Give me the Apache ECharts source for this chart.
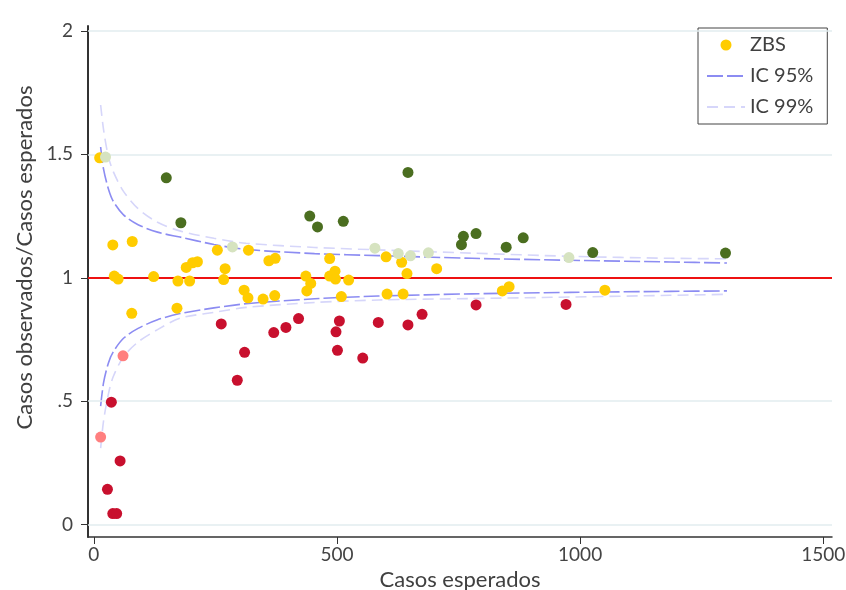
<!DOCTYPE html>
<html>
<head>
<meta charset="utf-8">
<script src="https://cdn.jsdelivr.net/npm/echarts@6/dist/echarts.min.js"></script>
<style>
html, body { margin: 0; padding: 0; background: #fff; }
#chartView { width: 846px; height: 590px; }
</style>
</head>
<body>
<div id="chartView"></div>
<script>
// valores: [casos esperados, observados/esperados]
var zbs = [
	[12, 1.486], [39, 1.133], [79, 1.147], [254, 1.112], [318, 1.112], [360, 1.069],
	[373, 1.079], [485, 1.078], [190, 1.042], [203, 1.061], [213, 1.065], [270, 1.037],
	[42, 1.007], [50, 0.995], [123, 1.005], [173, 0.987], [197, 0.987], [267, 0.993],
	[436, 1.007], [446, 0.977], [438, 0.947], [485, 1.007], [496, 1.027], [497, 0.995],
	[524, 0.991], [309, 0.950], [317, 0.919], [348, 0.914], [372, 0.928], [509, 0.924],
	[78, 0.856], [171, 0.877], [601, 1.085], [633, 1.063], [644, 1.017], [705, 1.037],
	[603, 0.934], [636, 0.934], [840, 0.947], [854, 0.964], [1051, 0.950]
];
var altoSig = [
	[149, 1.405], [179, 1.223], [444, 1.250], [460, 1.206], [513, 1.229], [646, 1.427],
	[760, 1.168], [756, 1.134], [786, 1.179], [848, 1.124], [883, 1.162], [1026, 1.102],
	[1299, 1.100]
];
var altoLeve = [
	[24, 1.489], [285, 1.125], [578, 1.120], [626, 1.098], [651, 1.089], [688, 1.101],
	[977, 1.082]
];
var bajoSig = [
	[262, 0.813], [310, 0.698], [295, 0.585], [370, 0.778], [395, 0.799], [421, 0.835],
	[498, 0.781], [505, 0.825], [501, 0.706], [553, 0.675], [585, 0.819], [646, 0.809],
	[675, 0.852], [786, 0.890], [971, 0.892], [36, 0.496], [54, 0.258], [28, 0.143],
	[39, 0.045], [47, 0.045]
];
var bajoLeve = [[60, 0.684], [14, 0.355]];

// limites de confianza
var icEsperados = [14, 20, 30, 40, 61, 91, 131, 177, 247, 313, 454, 585, 777, 979, 1186, 1302];
var ic95Sup = [1.53, 1.44, 1.36, 1.31, 1.255, 1.215, 1.185, 1.165, 1.135, 1.115, 1.098, 1.09, 1.079, 1.071, 1.064, 1.06];
var ic95Inf = [0.48, 0.575, 0.655, 0.70, 0.755, 0.795, 0.83, 0.855, 0.878, 0.895, 0.915, 0.926, 0.935, 0.941, 0.945, 0.947];
var ic99Sup = [1.70, 1.60, 1.49, 1.43, 1.35, 1.28, 1.225, 1.19, 1.16, 1.14, 1.123, 1.113, 1.10, 1.087, 1.079, 1.077];
var ic99Inf = [0.31, 0.42, 0.53, 0.60, 0.68, 0.74, 0.79, 0.836, 0.86, 0.88, 0.90, 0.91, 0.916, 0.922, 0.929, 0.933];

var xTicks = [0, 500, 1000, 1500];
var yTicks = [0, 0.5, 1, 1.5, 2];

function pares(ys) {
	return icEsperados.map(function (e, i) { return [e, ys[i]]; });
}

var fuente = 'Lato, "Open Sans", sans-serif';
var chartView = echarts.init(document.getElementById('chartView'));

function lineaIC(nombre, ys, color, tipo) {
	return {
		name: nombre,
		type: 'line',
		data: pares(ys),
		symbol: 'none',
		smooth: 0.3,
		silent: true,
		z: 3,
		itemStyle: { color: color },
		lineStyle: { color: color, width: 1.6, type: tipo }
	};
}

function puntos(nombre, datos, color) {
	return {
		name: nombre,
		type: 'scatter',
		data: datos,
		symbol: 'circle',
		symbolSize: 11,
		z: 5,
		itemStyle: { color: color, opacity: 1 }
	};
}

var ops = {
	animation: false,
	backgroundColor: '#fff',
	textStyle: { fontFamily: fuente },
	grid: { left: 88, right: 14, top: 26, bottom: 53, outerBoundsMode: 'none' },
	legend: {
		data: [
			{ name: 'ZBS', icon: 'circle' },
			{ name: 'IC 95%', itemStyle: { opacity: 0 } },
			{ name: 'IC 99%', itemStyle: { opacity: 0 } }
		],
		orient: 'vertical',
		left: 698,
		top: 28,
		padding: [6, 14, 6, 8],
		itemWidth: 38,
		itemHeight: 11,
		itemGap: 9,
		borderColor: '#444',
		borderWidth: 1,
		backgroundColor: '#fff',
		textStyle: { fontSize: 20, color: '#404040', lineHeight: 22, fontFamily: fuente }
	},
	xAxis: {
		type: 'value',
		min: -12,
		max: 1518,
		name: 'Casos esperados',
		nameLocation: 'middle',
		nameGap: 32,
		nameTextStyle: { fontSize: 22, color: '#404040' },
		axisLine: { show: true, onZero: false, lineStyle: { color: '#333', width: 1.5 } },
		axisTick: { show: true, customValues: xTicks, length: 7, lineStyle: { color: '#333' } },
		axisLabel: {
			customValues: xTicks, fontSize: 19, color: '#444', margin: 8,
			formatter: function (v) { return String(v); }
		},
		splitLine: { show: false }
	},
	yAxis: {
		type: 'value',
		min: -0.05,
		max: 2.02,
		name: 'Casos observados/Casos esperados',
		nameLocation: 'middle',
		nameRotate: 90,
		nameGap: 50,
		nameTextStyle: { fontSize: 22, color: '#404040', padding: [0, 0, 0, 48] },
		axisLine: { show: true, onZero: false, lineStyle: { color: '#333', width: 2 } },
		axisTick: { show: true, customValues: yTicks, length: 7, lineStyle: { color: '#333' } },
		axisLabel: {
			customValues: yTicks, fontSize: 19, color: '#444', margin: 15,
			formatter: function (v) { return String(v).replace(/^0\./, '.'); }
		},
		splitLine: { show: false }
	},
	series: [
		{
			name: 'rejilla',
			type: 'line',
			data: [],
			silent: true,
			z: 1,
			markLine: {
				silent: true,
				symbol: 'none',
				label: { show: false },
				lineStyle: { color: '#e2ecef', width: 1.5, type: 'solid' },
				data: [{ yAxis: 0 }, { yAxis: 0.5 }, { yAxis: 1.5 }, { yAxis: 2 }]
			}
		},
		{
			name: 'referencia',
			type: 'line',
			data: [],
			silent: true,
			z: 2,
			markLine: {
				silent: true,
				symbol: 'none',
				label: { show: false },
				lineStyle: { color: '#ee1111', width: 2, type: 'solid' },
				data: [{ yAxis: 1 }]
			}
		},
		lineaIC('IC 99%', ic99Sup, '#d6d6fa', [11, 6]),
		lineaIC('IC 99%', ic99Inf, '#d6d6fa', [11, 6]),
		lineaIC('IC 95%', ic95Sup, '#8c8cf2', [16, 4]),
		lineaIC('IC 95%', ic95Inf, '#8c8cf2', [16, 4]),
		puntos('ZBS', zbs, '#ffcc00'),
		puntos('Alto', altoSig, '#4b6e20'),
		puntos('Alto leve', altoLeve, '#d6e3c0'),
		puntos('Bajo', bajoSig, '#c8102e'),
		puntos('Bajo leve', bajoLeve, '#ff7f7f')
	]
};
chartView.setOption(ops);
</script>
</body>
</html>
